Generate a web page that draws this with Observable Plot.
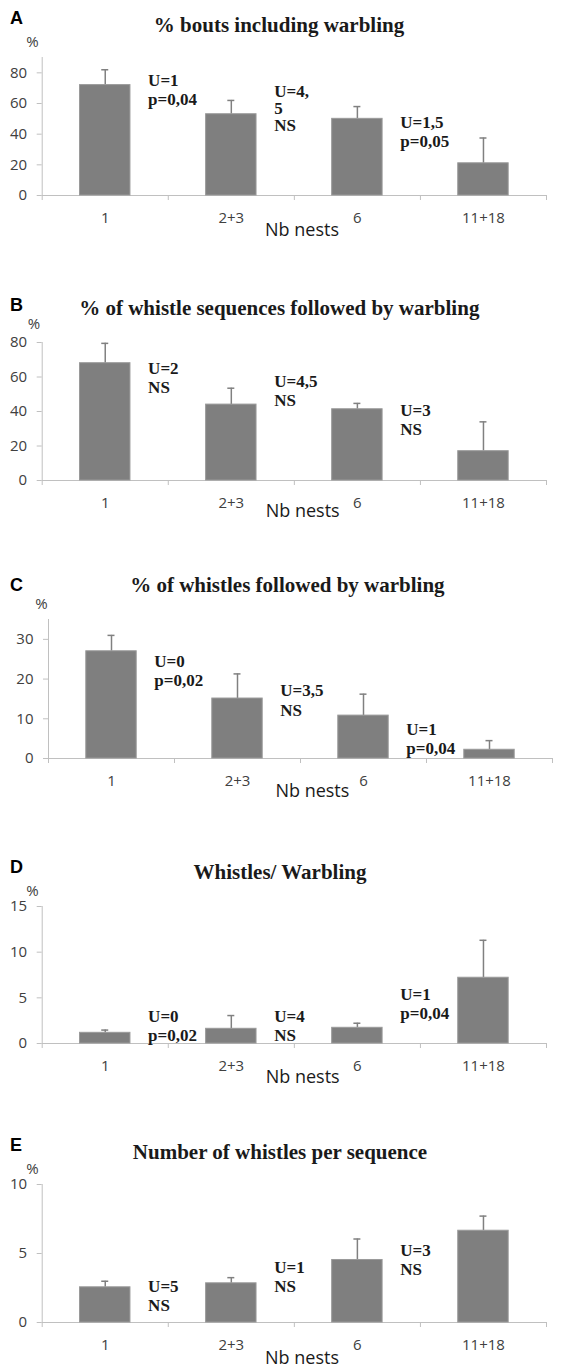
<!DOCTYPE html>
<html><head><meta charset="utf-8">
<script src="https://cdn.jsdelivr.net/npm/d3@7"></script>
<script src="https://cdn.jsdelivr.net/npm/@observablehq/plot@0.6"></script>
<style>
body{margin:0;background:#fff;}
#page{position:relative;width:564px;height:1372px;overflow:hidden;background:#fff;}
.abs{position:absolute;white-space:nowrap;line-height:1;}
.letter{font-family:"Liberation Sans",Arial,sans-serif;font-weight:bold;font-size:18px;color:#000;transform:translate(0,-50%);}
.title{font-family:"Liberation Serif","Times New Roman",serif;font-weight:bold;font-size:21px;color:#1a1a1a;transform:translate(-50%,-50%);}
.pct{font-family:"Open Sans",sans-serif;font-size:15px;color:#404040;transform:translate(-50%,-50%);}
.xlab{font-family:"Open Sans",sans-serif;font-size:18px;color:#1a1a1a;transform:translate(-50%,-50%);}
.plotwrap{position:absolute;left:0;}
</style></head>
<body><div id="page"></div>
<script>
// ---- data ----
const categories = ["1", "2+3", "6", "11+18"];
const letters = ["A", "B", "C", "D", "E"];
const titles = [
  "% bouts including warbling",
  "% of whistle sequences followed by warbling",
  "% of whistles followed by warbling",
  "Whistles/ Warbling",
  "Number of whistles per sequence"
];
const unitLabel = "%";
const xTitle = "Nb nests";

const meanA = [72, 53, 50, 21];
const errA  = [10, 9, 8, 16.5];
const meanB = [68, 44, 41.3, 17];
const errB  = [11.5, 9.5, 3.4, 17];
const meanC = [27, 15.1, 10.8, 2.2];
const errC  = [4, 6.2, 5.4, 2.3];
const meanD = [1.17, 1.61, 1.72, 7.2];
const errD  = [0.3, 1.45, 0.5, 4.1];
const meanE = [2.55, 2.84, 4.53, 6.65];
const errE  = [0.44, 0.41, 1.52, 1.06];

const ticksA = [0, 20, 40, 60, 80];  const maxA = 90;
const ticksB = [0, 20, 40, 60, 80];  const maxB = 80;
const ticksC = [0, 10, 20, 30];      const maxC = 35;
const ticksD = [0, 5, 10, 15];       const maxD = 15;
const ticksE = [0, 5, 10];           const maxE = 10;

const notesA = ["U=1\np=0,04", "U=4,\n5\nNS", "U=1,5\np=0,05"];
const notesB = ["U=2\nNS", "U=4,5\nNS", "U=3\nNS"];
const notesC = ["U=0\np=0,02", "U=3,5\nNS", "U=1\np=0,04"];
const notesD = ["U=0\np=0,02", "U=4\nNS", "U=1\np=0,04"];
const notesE = ["U=5\nNS", "U=1\nNS", "U=3\nNS"];
// vertical level (in value units) of the first line of each note
const noteYA = [76.6, 68.5, 49.2];
const noteYB = [66.5, 58.9, 42.0];
const noteYC = [25.1, 17.6, 8.0];
const noteYD = [3.25, 3.25, 5.67];
const noteYE = [2.80, 4.17, 5.40];

// ---- layout (page pixels) ----
const layout = [
  {top: 57.3,  zero: 195.7,  left: 41.7, right: 546, letterY: 17.8, title: [279, 25],    pct: [32.5, 40.5],  xlab: [302, 228.5]},
  {top: 341.7, zero: 479.3,  left: 41.7, right: 546, letterY: 305,  title: [279.3, 308.3], pct: [34, 323],   xlab: [302.7, 510]},
  {top: 618.9, zero: 757.7,  left: 48,   right: 552, letterY: 585,  title: [287.4, 585], pct: [41.5, 603],   xlab: [312.4, 790]},
  {top: 905.7, zero: 1042.3, left: 41.7, right: 546, letterY: 866.7, title: [280, 871.7], pct: [32.5, 889.5], xlab: [302.7, 1076]},
  {top: 1184.3, zero: 1322.7, left: 41.7, right: 546, letterY: 1145, title: [280, 1151.7], pct: [32.5, 1168], xlab: [302, 1357.3]}
];

const panels = [
  {means: meanA, errs: errA, ticks: ticksA, max: maxA, notes: notesA, noteY: noteYA},
  {means: meanB, errs: errB, ticks: ticksB, max: maxB, notes: notesB, noteY: noteYB},
  {means: meanC, errs: errC, ticks: ticksC, max: maxC, notes: notesC, noteY: noteYC},
  {means: meanD, errs: errD, ticks: ticksD, max: maxD, notes: notesD, noteY: noteYD},
  {means: meanE, errs: errE, ticks: ticksE, max: maxE, notes: notesE, noteY: noteYE}
];

const page = document.getElementById("page");
function addText(cls, txt, x, y) {
  const d = document.createElement("div");
  d.className = "abs " + cls;
  d.textContent = txt;
  d.style.left = x + "px";
  d.style.top = y + "px";
  page.appendChild(d);
}

const axisGray = "#c0c0c0";
const barGray = "#7f7f7f";

panels.forEach((p, k) => {
  const L = layout[k];
  const mt = 10, mb = 45;
  const data = categories.map((c, i) => ({c, i, m: p.means[i], e: p.means[i] + p.errs[i]}));
  const notes = p.notes.map((t, i) => ({t, i, y: p.noteY[i]}));
  const capHalf = 3.5 / ((L.right - L.left) / categories.length);
  const chart = Plot.plot({
    width: 564,
    height: Math.round(L.zero - L.top) + mt + mb,
    marginTop: mt, marginBottom: mb,
    marginLeft: L.left, marginRight: 564 - L.right,
    x: {domain: [0, categories.length]},
    y: {domain: [0, p.max]},
    style: {fontFamily: "'Open Sans', sans-serif", fontSize: "15px", color: "#404040", background: "transparent", overflow: "visible"},
    marks: [
      Plot.axisY({ticks: p.ticks, tickSize: 5, tickPadding: 10, stroke: axisGray, fill: "#404040", label: null, tickFormat: d => String(d), fontSize: 15}),
      Plot.axisX({ticks: d3.range(categories.length + 1), tickSize: 5, tickFormat: () => "", stroke: axisGray, label: null}),
      Plot.axisX({ticks: categories.map((c, i) => i + 0.5), tickSize: 0, tickPadding: 17, tickFormat: d => categories[Math.floor(d)], fill: "#404040", label: null, fontSize: 15}),
      Plot.ruleX([0], {stroke: axisGray}),
      Plot.ruleY([0], {stroke: axisGray}),
      Plot.ruleX(data, {x: d => d.i + 0.5, y1: "m", y2: "e", stroke: "#808080", strokeWidth: 1.5}),
      Plot.ruleY(data, {y: "e", x1: d => d.i + 0.5 - capHalf, x2: d => d.i + 0.5 + capHalf, stroke: "#808080", strokeWidth: 1.5}),
      Plot.rect(data, {x1: d => d.i + 0.3, x2: d => d.i + 0.7, y1: d => 0, y2: "m", fill: barGray, stroke: "#9a9a9a", strokeWidth: 1}),
      ...notes.map(n => Plot.text([n], {
        x: d => d.i + 0.84, y: "y", text: "t",
        textAnchor: "start", lineAnchor: "top", dy: -6,
        lineHeight: n.t.split("\n").length > 2 ? 1.0 : 1.15,
        fontFamily: "'Liberation Serif', 'Times New Roman', serif", fontWeight: "bold", fontSize: 17, fill: "#1a1a1a"
      }))
    ]
  });
  const wrap = document.createElement("div");
  wrap.className = "plotwrap";
  wrap.style.top = (L.top - mt) + "px";
  wrap.appendChild(chart);
  page.appendChild(wrap);

  addText("letter", letters[k], 10, L.letterY);
  addText("title", titles[k], L.title[0], L.title[1]);
  addText("pct", unitLabel, L.pct[0], L.pct[1]);
  addText("xlab", xTitle, L.xlab[0], L.xlab[1]);
});
</script>
</body></html>
